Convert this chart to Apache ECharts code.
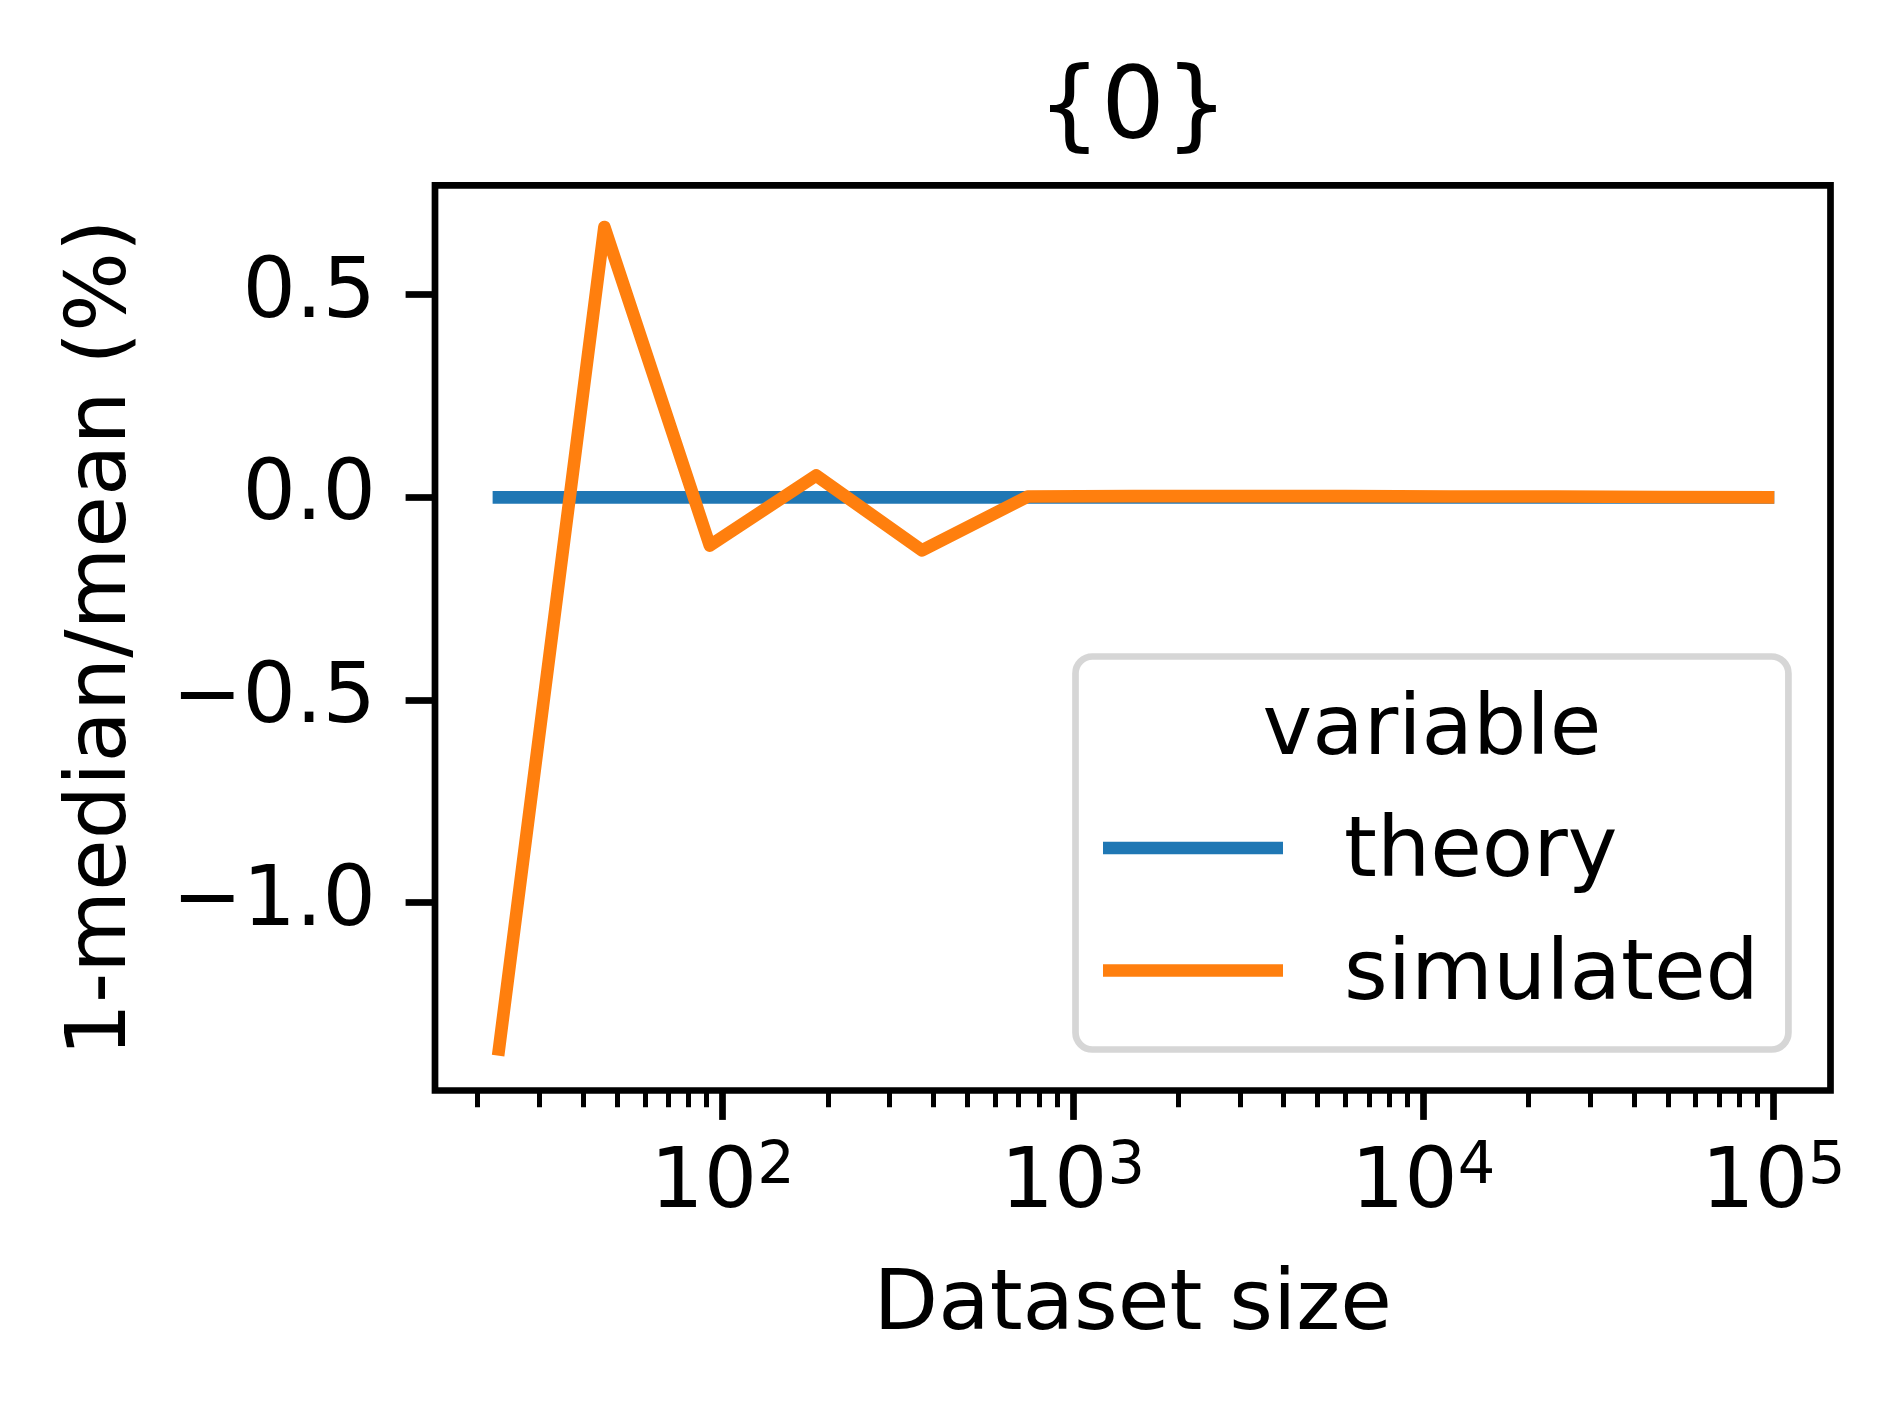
<!DOCTYPE html>
<html>
<head>
<meta charset="utf-8">
<title>{0}</title>
<script src="https://cdn.jsdelivr.net/npm/echarts@6/dist/echarts.min.js"></script>
<style>
  html, body { margin: 0; padding: 0; background: #fff; }
  #chart { width: 1903px; height: 1405px; }
</style>
</head>
<body>
<div id="chart"></div>
<script>
// dataset sizes (x, log scale)
const sizes = [23, 46, 92, 185, 371, 743, 1490, 2985, 5982, 11987, 24022, 48139, 96468];
// 1-median/mean (%)
const theoryVals = [0, 0, 0, 0, 0, 0, 0, 0, 0, 0, 0, 0, 0];
const simulatedVals = [-1.362, 0.667, -0.119, 0.054, -0.131, 0.002, 0.003, 0.003, 0.003, 0.002, 0.002, 0.001, 0.0];
// tick labels
const xMajorTicks = [100, 1000, 10000, 100000];
const xMinorTicks = [20, 30, 40, 50, 60, 70, 80, 90,
  200, 300, 400, 500, 600, 700, 800, 900,
  2000, 3000, 4000, 5000, 6000, 7000, 8000, 9000,
  20000, 30000, 40000, 50000, 60000, 70000, 80000, 90000];
const yTicks = [-1.0, -0.5, 0.0, 0.5];

const FONT = 'DejaVu Sans';
const chart = echarts.init(document.getElementById('chart'));

const pairs = (ys) => sizes.map((x, i) => [x, ys[i]]);

const option = {
  animation: false,
  backgroundColor: '#fff',
  title: {
    text: '{0}',
    left: 1133,
    top: 62,
    padding: 0,
    textAlign: 'center',
    textStyle: { fontFamily: FONT, fontSize: 100, fontWeight: 'normal', color: '#000' }
  },
  grid: {
    left: 435, right: 72.5, top: 185.3, bottom: 314.5,
    show: true, borderColor: '#000', borderWidth: 6.7, backgroundColor: 'transparent'
  },
  legend: {
    orient: 'vertical',
    left: 1075.5,
    top: 656.5,
    padding: [143, 29.5, 30.5, 27.5],
    itemGap: 25.5,
    itemWidth: 180,
    itemHeight: 12.6,
    icon: 'rect',
    selectedMode: false,
    backgroundColor: '#fff',
    borderColor: '#d6d6d6',
    borderWidth: 6.7,
    borderRadius: 17,
    formatter: '{t|{name}}',
    textStyle: {
      fontFamily: FONT, fontSize: 84, color: '#000', padding: [0, 0, 0, 56],
      rich: { t: { fontFamily: FONT, fontSize: 84, lineHeight: 84, color: '#000', padding: [13, 0, 0, 0] } }
    },
    data: ['theory', 'simulated']
  },
  graphic: [{
    type: 'text', z: 100,
    x: 1432, y: 732,
    style: { text: 'variable', fontFamily: FONT, fontSize: 84, fill: '#000', textAlign: 'center', textVerticalAlign: 'middle' }
  }],
  xAxis: [{
    // data axis + minor ticks
    type: 'log', position: 'bottom',
    min: 15.11, max: 145500,
    name: 'Dataset size', nameLocation: 'middle', nameGap: 174.5,
    nameTextStyle: { fontFamily: FONT, fontSize: 84, color: '#000' },
    axisLine: { show: false, onZero: false },
    axisTick: { show: true, customValues: xMinorTicks, length: 16.8, lineStyle: { color: '#000', width: 5 } },
    axisLabel: { show: false },
    splitLine: { show: false }
  }, {
    // major ticks + labels
    type: 'log', position: 'bottom',
    min: 15.11, max: 145500,
    axisLine: { show: false, onZero: false },
    axisTick: { show: true, customValues: xMajorTicks, length: 29.4, lineStyle: { color: '#000', width: 6.7 } },
    axisLabel: {
      show: true,
      customValues: xMajorTicks,
      margin: 47.5,
      formatter: (v) => '{b|10}{s|' + Math.round(Math.log10(v)) + '}',
      rich: {
        b: { fontFamily: FONT, fontSize: 84, lineHeight: 84, color: '#000', padding: [10, 0, 0, 0] },
        s: { fontFamily: FONT, fontSize: 59, lineHeight: 59, color: '#000', verticalAlign: 'top' }
      }
    },
    splitLine: { show: false }
  }],
  yAxis: {
    type: 'value',
    min: -1.4634, max: 0.770,
    name: '1-median/mean (%)', nameLocation: 'middle', nameGap: 290, nameRotate: 90,
    nameTextStyle: { fontFamily: FONT, fontSize: 84, color: '#000' },
    axisLine: { show: false, onZero: false },
    axisTick: { show: true, customValues: yTicks, length: 29.4, lineStyle: { color: '#000', width: 6.7 } },
    axisLabel: {
      show: true, customValues: yTicks, margin: 59,
      fontFamily: FONT, fontSize: 84, color: '#000',
      formatter: (v) => (v < 0 ? '\u2212' : '') + Math.abs(v).toFixed(1)
    },
    splitLine: { show: false }
  },
  series: [{
    name: 'theory', type: 'line', xAxisIndex: 0,
    data: pairs(theoryVals),
    showSymbol: false, color: '#1f77b4',
    lineStyle: { width: 12.6, color: '#1f77b4', cap: 'square', join: 'round' }
  }, {
    name: 'simulated', type: 'line', xAxisIndex: 0,
    data: pairs(simulatedVals),
    showSymbol: false, color: '#ff7f0e',
    lineStyle: { width: 12.6, color: '#ff7f0e', cap: 'square', join: 'round' }
  }]
};

chart.setOption(option);
</script>
</body>
</html>
